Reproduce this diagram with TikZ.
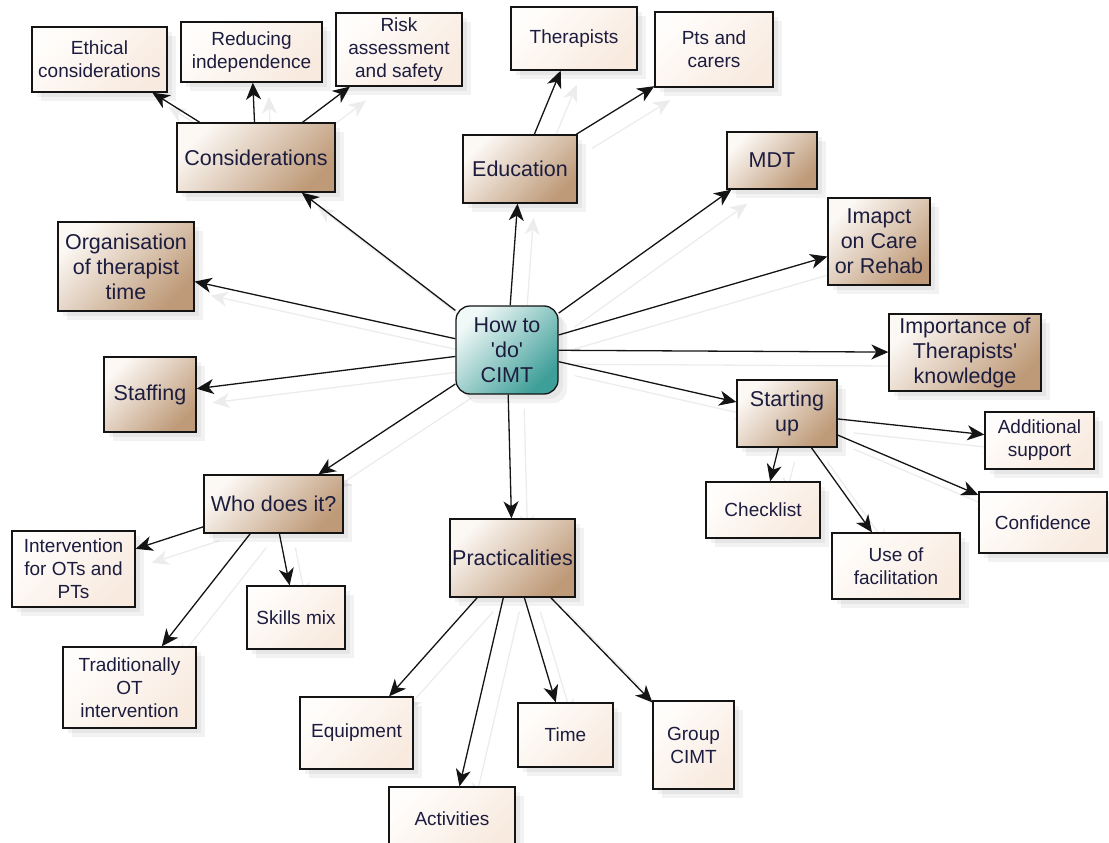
\documentclass[tikz,border=0pt]{standalone}
\usepackage{fontspec}
\setmainfont{Liberation Sans}[Ligatures=TeXOff]
\usetikzlibrary{arrows.meta,shadows,backgrounds}
\definecolor{txt}{RGB}{28,28,62}
\definecolor{edge}{RGB}{20,20,20}
\definecolor{onetop}{RGB}{252,248,244}
\definecolor{onemid}{RGB}{238,225,212}
\definecolor{onebot}{RGB}{190,154,120}
\definecolor{twotop}{RGB}{255,253,251}
\definecolor{twobot}{RGB}{248,234,223}
\definecolor{hubtop}{RGB}{240,249,248}
\definecolor{hubmid}{RGB}{172,218,214}
\definecolor{hubbot}{RGB}{62,158,152}
\definecolor{eshadow}{RGB}{236,236,236}
\begin{document}
\begin{tikzpicture}[x=1pt,y=-1pt,
  base/.style={draw=edge, line width=1.3pt, inner sep=0pt, align=center, text=txt,
    drop shadow={shadow xshift=9pt, shadow yshift=-9pt, opacity=0.05, fill=black},
    drop shadow={shadow xshift=5pt, shadow yshift=-5pt, opacity=0.05, fill=black}},
  lvlone/.style={base, top color=onetop, middle color=onemid, bottom color=onebot, shading angle=45,
    font=\fontsize{21.5}{25}\selectfont},
  lvltwo/.style={base, top color=twotop, bottom color=twobot, shading angle=45,
    font=\fontsize{19}{23}\selectfont},
  hubbox/.style={base, rounded corners=14pt, top color=hubtop, middle color=hubmid, bottom color=hubbot,
    shading angle=45, font=\fontsize{21.5}{25}\selectfont},
  conn/.style={draw=edge, line width=1.3pt, -{Stealth[length=17pt,width=15pt,inset=5pt]}},
  connshadow/.style={draw=eshadow, line width=1.3pt, -{Stealth[length=17pt,width=15pt,inset=5pt]}}
]
\useasboundingbox (0,0) rectangle (1109,843);

% hub
\node[hubbox, minimum width=102pt, minimum height=88pt] (hub) at (507,350) {How to\\'do'\\CIMT};

% level one
\node[lvlone, minimum width=158pt, minimum height=69pt] (cons) at (256,157.5) {Considerations};
\node[lvlone, minimum width=114pt, minimum height=68pt] (edu) at (520,169) {Education};
\node[lvlone, minimum width=90pt, minimum height=57pt] (mdt) at (772,160.5) {MDT};
\node[lvlone, minimum width=102pt, minimum height=87pt] (imp) at (879,241.5) {Imapct\\on Care\\or Rehab};
\node[lvlone, minimum width=152pt, minimum height=77pt] (know) at (965,352.5) {Importance of\\Therapists'\\knowledge};
\node[lvlone, minimum width=100pt, minimum height=67pt] (start) at (787,413.5) {Starting\\up};
\node[lvlone, minimum width=125pt, minimum height=78pt] (prac) at (512.5,558) {Practicalities};
\node[lvlone, minimum width=139pt, minimum height=58pt] (who) at (273.5,504) {Who does it?};
\node[lvlone, minimum width=92pt, minimum height=75pt] (staff) at (150,394.5) {Staffing};
\node[lvlone, minimum width=136pt, minimum height=89pt] (org) at (126,266.5) {Organisation\\of therapist\\time};

% level two
\node[lvltwo, minimum width=135pt, minimum height=65pt] (eth) at (99.5,59.5) {Ethical\\considerations};
\node[lvltwo, minimum width=141pt, minimum height=60pt] (red) at (251.5,52) {Reducing\\independence};
\node[lvltwo, minimum width=126pt, minimum height=73pt] (risk) at (399,49.5) {Risk\\assessment\\and safety};
\node[lvltwo, minimum width=126pt, minimum height=63pt] (ther) at (574,38.5) {Therapists};
\node[lvltwo, minimum width=118pt, minimum height=75pt] (pts) at (714,49.5) {Pts and\\carers};
\node[lvltwo, minimum width=109pt, minimum height=57pt] (add) at (1039.5,440.5) {Additional\\support};
\node[lvltwo, minimum width=114pt, minimum height=56pt] (check) at (763,510) {Checklist};
\node[lvltwo, minimum width=128pt, minimum height=61pt] (conf) at (1043,522.5) {Confidence};
\node[lvltwo, minimum width=128pt, minimum height=66pt] (fac) at (896,566) {Use of\\facilitation};
\node[lvltwo, minimum width=123pt, minimum height=76pt] (interv) at (73.5,569) {Intervention\\for OTs and\\PTs};
\node[lvltwo, minimum width=133pt, minimum height=81pt] (trad) at (129.5,687.5) {Traditionally\\OT\\intervention};
\node[lvltwo, minimum width=98pt, minimum height=63pt] (skills) at (296,617.5) {Skills mix};
\node[lvltwo, minimum width=113pt, minimum height=72pt] (equip) at (356.5,733) {Equipment};
\node[lvltwo, minimum width=126pt, minimum height=63pt] (act) at (452,818.5) {Activities};
\node[lvltwo, minimum width=95pt, minimum height=64pt] (time) at (565.5,735) {Time};
\node[lvltwo, minimum width=81pt, minimum height=88pt] (group) at (693.5,745) {Group\\CIMT};

\begin{pgfonlayer}{background}
  \begin{scope}[transform canvas={shift={(16pt,-14pt)}}]
    \foreach \a/\b in {hub/cons,hub/edu,hub/mdt,hub/imp,hub/know,hub/start,hub/prac,hub/who,hub/staff,hub/org,
      cons/eth,cons/red,cons/risk,edu/ther,edu/pts,start/add,start/check,start/conf,start/fac,
      who/interv,who/trad,who/skills,prac/equip,prac/act,prac/time,prac/group}
      \draw[connshadow] (\a) -- (\b);
  \end{scope}
  \foreach \a/\b in {hub/cons,hub/edu,hub/mdt,hub/imp,hub/know,hub/start,hub/prac,hub/who,hub/staff,hub/org,
    cons/eth,cons/red,cons/risk,edu/ther,edu/pts,start/add,start/check,start/conf,start/fac,
    who/interv,who/trad,who/skills,prac/equip,prac/act,prac/time,prac/group}
    \draw[conn] (\a) -- (\b);
\end{pgfonlayer}
\end{tikzpicture}
\end{document}
